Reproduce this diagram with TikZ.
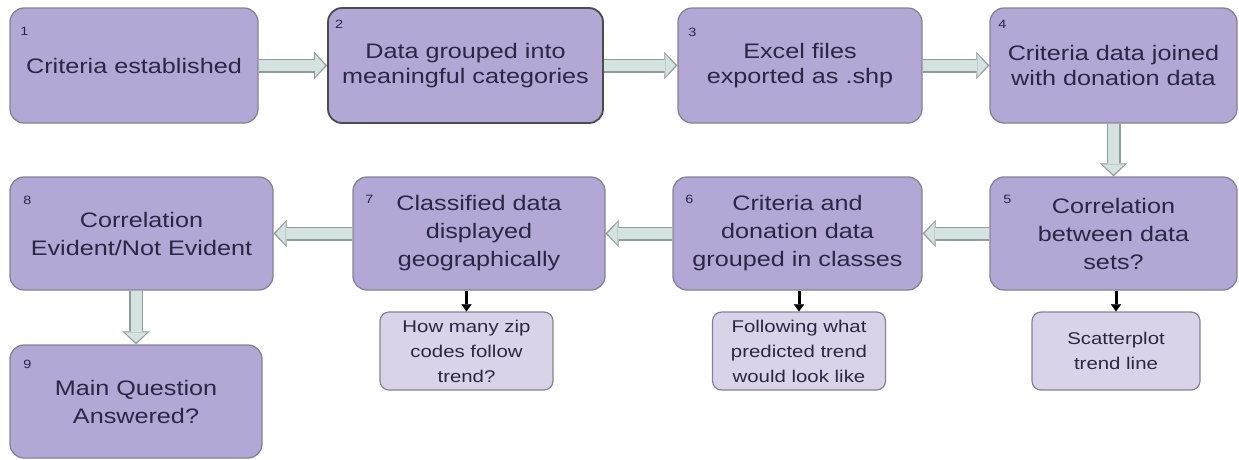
\documentclass[tikz,border=0pt]{standalone}
\usepackage{fontspec}
\setmainfont{Liberation Sans}[FakeStretch=1.2]
\usetikzlibrary{arrows.meta}
\definecolor{stepfill}{HTML}{B3A7D6}
\definecolor{notefill}{HTML}{D9D2E9}
\definecolor{boxedge}{HTML}{858294}
\definecolor{inkblue}{HTML}{2A2744}
\definecolor{arrowfill}{HTML}{D4E2E0}
\definecolor{arrowedge}{HTML}{8E9C9A}

\begin{document}
\begin{tikzpicture}[x=1pt, y=-1pt,
  stage/.style={draw=boxedge, line width=1.3pt, fill=stepfill, rounded corners=14pt,
    align=center, inner sep=0pt, text=inkblue},
  toprow/.style={stage, minimum height=115pt, font=\fontsize{21}{25}\selectfont},
  lowrow/.style={stage, minimum height=113pt, font=\fontsize{21}{28}\selectfont},
  note/.style={draw=boxedge, line width=1.2pt, fill=notefill, rounded corners=9pt,
    minimum height=78pt, align=center, inner sep=0pt, text=inkblue,
    font=\fontsize{17}{25}\selectfont},
  num/.style={text=inkblue, font=\fontsize{12}{12}\selectfont, inner sep=0pt},
  flowedge/.style={draw=arrowedge, line width=14pt,
    -{Triangle[length=13pt, width=27pt, line width=0.1pt]}},
  flowfill/.style={draw=arrowfill, line width=11pt, shorten >=2pt,
    -{Triangle[length=10pt, width=22pt, line width=0.1pt]}},
  hint/.style={draw=black, line width=3pt,
    -{Triangle[length=7pt, width=10pt, line width=0.1pt]}}
]
\useasboundingbox (0,0) rectangle (1239,459);

% Top row
\node[toprow, minimum width=248pt] (b1) at (134,65.5) {Criteria established};
\node[toprow, minimum width=275pt, draw=black!70, line width=1.8pt] (b2) at (465.5,65.5)
  {Data grouped into\\meaningful categories};
\node[toprow, minimum width=244pt] (b3) at (800,65.5) {Excel files\\exported as .shp};
\node[toprow, minimum width=247pt] (b4) at (1113.5,65.5)
  {Criteria data joined\\with donation data};

% Second row
\node[lowrow, minimum width=247pt] (b5) at (1113.5,233.5)
  {Correlation\\between data\\sets?};
\node[lowrow, minimum width=249pt] (b6) at (797.5,233.5)
  {Criteria and\\donation data\\grouped in classes};
\node[lowrow, minimum width=252pt] (b7) at (479,233.5)
  {Classified data\\displayed\\geographically};
\node[lowrow, minimum width=263pt] (b8) at (141.5,233.5)
  {Correlation\\Evident/Not Evident};
\node[lowrow, minimum width=252pt] (b9) at (136,401.5)
  {Main Question\\Answered?};

% Notes under the steps
\node[note, minimum width=168pt] (s5) at (1116,351) {Scatterplot\\trend line};
\node[note, minimum width=173pt] (s6) at (799,351)
  {Following what\\predicted trend\\would look like};
\node[note, minimum width=173pt] (s7) at (466.5,351)
  {How many zip\\codes follow\\trend?};

% Step numbers
\node[num] (n1) at ([shift={(15,24)}]b1.north west) {1};
\node[num] (n2) at ([shift={(12,17)}]b2.north west) {2};
\node[num] (n3) at ([shift={(15,25)}]b3.north west) {3};
\node[num] (n4) at ([shift={(13,17)}]b4.north west) {4};
\node[num] (n5) at ([shift={(18,23)}]b5.north west) {5};
\node[num] (n6) at ([shift={(17,23)}]b6.north west) {6};
\node[num] (n7) at ([shift={(17,23)}]b7.north west) {7};
\node[num] (n8) at ([shift={(18,24)}]b8.north west) {8};
\node[num] (n9) at ([shift={(18,20)}]b9.north west) {9};

% Flow arrows
\foreach \from/\to in {b1/b2, b2/b3, b3/b4, b4/b5, b5/b6, b6/b7, b7/b8} {
  \draw[flowedge] (\from) -- (\to);
  \draw[flowfill] (\from) -- (\to);
}
\draw[flowedge] (b8.south -| b9) -- (b9);
\draw[flowfill] (b8.south -| b9) -- (b9);

% Note arrows
\foreach \up/\down in {b5/s5, b6/s6, b7/s7}
  \draw[hint] (\up.south -| \down) -- (\down);
\end{tikzpicture}
\end{document}
